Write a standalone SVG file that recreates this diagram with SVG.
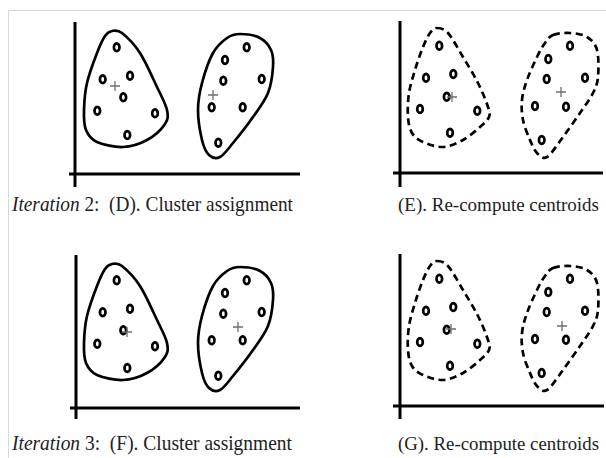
<svg xmlns="http://www.w3.org/2000/svg" xmlns:xlink="http://www.w3.org/1999/xlink" width="606" height="458" viewBox="0 0 606 458">
<style>
.frame{fill:none;stroke:#d8d8d8;stroke-width:1}
.axis{fill:none;stroke:#000;stroke-width:3}
.blob{fill:none;stroke:#000;stroke-width:2.7;stroke-linejoin:round}
.dash{fill:none;stroke:#000;stroke-width:2.7;stroke-dasharray:7 4.5}
.pt{fill:#fff;stroke:#000;stroke-width:2.7}
.cen{stroke:#6e6e6e;stroke-width:1.3;fill:none}
.lbl{font-family:"Liberation Serif","Times New Roman",serif;font-size:21px;fill:#222}
.lblr{font-family:"Liberation Serif","Times New Roman",serif;font-size:19px;fill:#222}
</style>
<defs>
<ellipse id="p" class="pt" cx="0" cy="0" rx="2.8" ry="3.9"/>
<path id="c" class="cen" d="M-5,0H5M0,-5V5"/>
<g id="ptsDL">
<use xlink:href="#p" x="116.7" y="47.3"/><use xlink:href="#p" x="102.7" y="79.3"/><use xlink:href="#p" x="130" y="75.7"/><use xlink:href="#p" x="123.3" y="97.3"/><use xlink:href="#p" x="97.3" y="110.7"/><use xlink:href="#p" x="155" y="113.3"/><use xlink:href="#p" x="127.3" y="135"/>
</g>
<g id="ptsDR">
<use xlink:href="#p" x="246.7" y="47.3"/><use xlink:href="#p" x="225" y="60"/><use xlink:href="#p" x="223.3" y="80.7"/><use xlink:href="#p" x="261.7" y="79"/><use xlink:href="#p" x="211.7" y="107.3"/><use xlink:href="#p" x="242.7" y="107.3"/><use xlink:href="#p" x="218.3" y="142.7"/>
</g>
<g id="ptsEL">
<use xlink:href="#p" x="439.3" y="45.7"/><use xlink:href="#p" x="426" y="77.7"/><use xlink:href="#p" x="453.3" y="74"/><use xlink:href="#p" x="446.7" y="96.7"/><use xlink:href="#p" x="420" y="109"/><use xlink:href="#p" x="477.3" y="110.7"/><use xlink:href="#p" x="450" y="132.7"/>
</g>
<g id="ptsER">
<use xlink:href="#p" x="570" y="45.7"/><use xlink:href="#p" x="548.3" y="59"/><use xlink:href="#p" x="546.7" y="79"/><use xlink:href="#p" x="585" y="77.7"/><use xlink:href="#p" x="535" y="106"/><use xlink:href="#p" x="566" y="106.7"/><use xlink:href="#p" x="541.7" y="140"/>
</g>
<path id="blobDL" d="M112,31 C114.8,30.5 117.3,29.3 122,33 C126.7,36.7 134.2,44 140,53 C145.8,62 152.5,77.5 157,87 C161.5,96.5 165.7,103.8 167,110 C168.3,116.2 168.3,119 165,124 C161.7,129 154,136.2 147,140 C140,143.8 131.3,146.7 123,147 C114.7,147.3 103.2,144.8 97,142 C90.8,139.2 88.2,135.3 86,130 C83.8,124.7 83.8,117.8 84,110 C84.2,102.2 84.8,92.5 87,83 C89.2,73.5 94,60.8 97,53 C100,45.2 102.5,39.7 105,36 C107.5,32.3 109.2,31.5 112,31 Z"/>
<path id="blobDR" d="M240,34 C245.5,34 254.8,35.3 260,38 C265.2,40.7 268.8,45.2 271,50 C273.2,54.8 273.5,59.8 273,67 C272.5,74.2 271.3,84.7 268,93 C264.7,101.3 258.8,108.7 253,117 C247.2,125.3 238.5,136.3 233,143 C227.5,149.7 224,155 220,157 C216,159 212,157.8 209,155 C206,152.2 203.8,147.5 202,140 C200.2,132.5 198,119.5 198,110 C198,100.5 199.5,92.5 202,83 C204.5,73.5 208.8,60.5 213,53 C217.2,45.5 222.5,41.2 227,38 C231.5,34.8 234.5,34 240,34 Z"/>
<path id="blobEL" d="M437,28 C440,28 443.7,28.2 448,33 C452.3,37.8 458,48.7 463,57 C468,65.3 473.8,74.7 478,83 C482.2,91.3 486.2,101.3 488,107 C489.8,112.7 490.3,113.7 489,117 C487.7,120.3 484.3,123.2 480,127 C475.7,130.8 469.2,136.7 463,140 C456.8,143.3 449.7,146.7 443,147 C436.3,147.3 428.2,144.3 423,142 C417.8,139.7 414.5,137.2 412,133 C409.5,128.8 408.5,123.7 408,117 C407.5,110.3 407.8,100.8 409,93 C410.2,85.2 412.7,77.7 415,70 C417.3,62.3 420.5,53.2 423,47 C425.5,40.8 427.7,36.2 430,33 C432.3,29.8 434,28 437,28 Z"/>
<path id="blobER" d="M553,35 C557.2,33.3 564.3,32.7 570,33 C575.7,33.3 582.5,34.2 587,37 C591.5,39.8 595.2,43.3 597,50 C598.8,56.7 598.7,69.8 598,77 C597.3,84.2 596,87 593,93 C590,99 585,105.7 580,113 C575,120.3 568.5,129.7 563,137 C557.5,144.3 551.3,154.3 547,157 C542.7,159.7 539.8,155.8 537,153 C534.2,150.2 532.3,145.5 530,140 C527.7,134.5 524.3,126.7 523,120 C521.7,113.3 521.3,106.7 522,100 C522.7,93.3 524.5,87.2 527,80 C529.5,72.8 534,63.2 537,57 C540,50.8 542.3,46.7 545,43 C547.7,39.3 548.8,36.7 553,35 Z"/>
</defs>
<rect width="606" height="458" fill="#fff"/>
<path class="frame" d="M8.5,458V10.5H606"/>

<g id="panelD">
<path class="axis" d="M75,22V187M69,174H300"/>
<use xlink:href="#blobDL" class="blob"/>
<use xlink:href="#blobDR" class="blob"/>
<use xlink:href="#ptsDL"/><use xlink:href="#ptsDR"/>
<use xlink:href="#c" x="115" y="86"/><use xlink:href="#c" x="213" y="95"/>
</g>
<g id="panelE">
<path class="axis" d="M400,21V187M393,173H603"/>
<use xlink:href="#blobEL" class="dash"/>
<use xlink:href="#blobER" class="dash"/>
<use xlink:href="#ptsEL"/><use xlink:href="#ptsER"/>
<use xlink:href="#c" x="452" y="97"/><use xlink:href="#c" x="561" y="92"/>
</g>
<g id="panelF">
<path class="axis" d="M76,255V419M70,408H300"/>
<g transform="translate(0,233)">
<use xlink:href="#blobDL" class="blob"/>
<use xlink:href="#blobDR" class="blob"/>
<use xlink:href="#ptsDL"/><use xlink:href="#ptsDR"/>
</g>
<use xlink:href="#c" x="127" y="332"/><use xlink:href="#c" x="238" y="327"/>
</g>
<g id="panelG">
<path class="axis" d="M400,254V419M393,406H604"/>
<g transform="translate(0,233)">
<use xlink:href="#blobEL" class="dash"/>
<use xlink:href="#blobER" class="dash"/>
<use xlink:href="#ptsEL"/><use xlink:href="#ptsER"/>
</g>
<use xlink:href="#c" x="451" y="329"/><use xlink:href="#c" x="562" y="326"/>
</g>

<g id="labels">
<text class="lbl" x="12" y="211" textLength="281" lengthAdjust="spacingAndGlyphs" xml:space="preserve"><tspan font-style="italic">Iteration</tspan> 2:  (D). Cluster assignment</text>
<text class="lblr" x="398" y="211" textLength="201" lengthAdjust="spacingAndGlyphs">(E). Re-compute centroids</text>
<text class="lbl" x="12" y="450" textLength="280" lengthAdjust="spacingAndGlyphs" xml:space="preserve"><tspan font-style="italic">Iteration</tspan> 3:  (F). Cluster assignment</text>
<text class="lblr" x="398" y="450" textLength="201" lengthAdjust="spacingAndGlyphs">(G). Re-compute centroids</text>
</g>
</svg>
